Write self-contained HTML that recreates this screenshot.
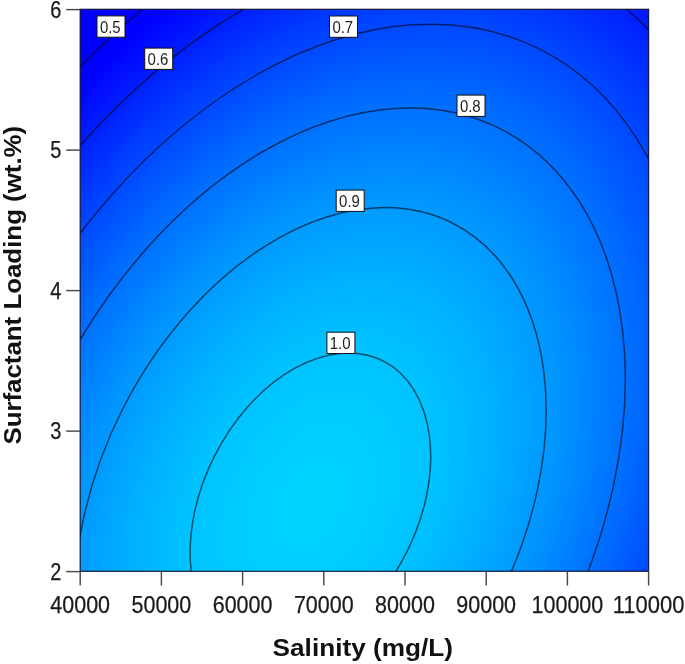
<!DOCTYPE html>
<html><head><meta charset="utf-8"><title>Contour plot</title>
<style>
html,body{margin:0;padding:0;background:#fff;}
body{width:685px;height:664px;overflow:hidden;}
svg{display:block;font-family:"Liberation Sans",sans-serif;}
</style></head><body>
<svg width="685" height="664" viewBox="0 0 685 664">
<defs>
<radialGradient id="g" gradientUnits="userSpaceOnUse" cx="0" cy="0" r="1" gradientTransform="translate(310.42 504.40) rotate(-63.149) scale(739.85 494.47)">
<stop offset="0.0000" stop-color="#00d2ff"/>
<stop offset="0.0250" stop-color="#00d1ff"/>
<stop offset="0.0500" stop-color="#00d1ff"/>
<stop offset="0.0750" stop-color="#00d0ff"/>
<stop offset="0.1000" stop-color="#00ceff"/>
<stop offset="0.1250" stop-color="#00cdff"/>
<stop offset="0.1500" stop-color="#00cbff"/>
<stop offset="0.1750" stop-color="#00c8ff"/>
<stop offset="0.2000" stop-color="#00c5ff"/>
<stop offset="0.2250" stop-color="#00c2ff"/>
<stop offset="0.2500" stop-color="#00beff"/>
<stop offset="0.2750" stop-color="#00baff"/>
<stop offset="0.3000" stop-color="#00b5ff"/>
<stop offset="0.3250" stop-color="#00b1ff"/>
<stop offset="0.3500" stop-color="#00abff"/>
<stop offset="0.3750" stop-color="#00a6ff"/>
<stop offset="0.4000" stop-color="#00a0ff"/>
<stop offset="0.4250" stop-color="#009aff"/>
<stop offset="0.4500" stop-color="#0094ff"/>
<stop offset="0.4750" stop-color="#008dff"/>
<stop offset="0.5000" stop-color="#0086ff"/>
<stop offset="0.5250" stop-color="#007eff"/>
<stop offset="0.5500" stop-color="#0077ff"/>
<stop offset="0.5750" stop-color="#006fff"/>
<stop offset="0.6000" stop-color="#0067ff"/>
<stop offset="0.6250" stop-color="#005eff"/>
<stop offset="0.6500" stop-color="#0056ff"/>
<stop offset="0.6750" stop-color="#004dff"/>
<stop offset="0.7000" stop-color="#0044ff"/>
<stop offset="0.7250" stop-color="#003bff"/>
<stop offset="0.7500" stop-color="#0031ff"/>
<stop offset="0.7750" stop-color="#0028ff"/>
<stop offset="0.8000" stop-color="#001eff"/>
<stop offset="0.8250" stop-color="#0014ff"/>
<stop offset="0.8500" stop-color="#000bff"/>
<stop offset="0.8750" stop-color="#0001ff"/>
<stop offset="0.9000" stop-color="#0000ff"/>
<stop offset="0.9250" stop-color="#0000ff"/>
<stop offset="0.9500" stop-color="#0000ff"/>
<stop offset="0.9750" stop-color="#0000ff"/>
<stop offset="1.0000" stop-color="#0000ff"/>
</radialGradient>
<clipPath id="c"><rect x="80.2" y="9.3" width="568.40" height="562.00"/></clipPath>
</defs>
<rect x="0" y="0" width="685" height="664" fill="#fff"/>
<rect x="80.2" y="9.3" width="568.40" height="562.00" fill="url(#g)"/>
<g clip-path="url(#c)" fill="none" stroke="#000610" stroke-width="1.5" stroke-opacity="0.62">
<ellipse cx="310.42" cy="504.40" rx="667.82" ry="446.33" transform="rotate(-63.149 310.42 504.40)"/>
<ellipse cx="310.42" cy="504.40" rx="590.95" ry="394.96" transform="rotate(-63.149 310.42 504.40)"/>
<ellipse cx="310.42" cy="504.40" rx="509.82" ry="340.73" transform="rotate(-63.149 310.42 504.40)"/>
<ellipse cx="310.42" cy="504.40" rx="420.96" ry="281.34" transform="rotate(-63.149 310.42 504.40)"/>
<ellipse cx="310.42" cy="504.40" rx="315.14" ry="210.62" transform="rotate(-63.149 310.42 504.40)"/>
<ellipse cx="310.42" cy="504.40" rx="160.79" ry="107.46" transform="rotate(-63.149 310.42 504.40)"/>
</g>
<rect x="80.2" y="9.3" width="568.40" height="562.00" fill="none" stroke="#0a0c2c" stroke-width="1.25" stroke-opacity="0.88"/>
<g stroke="#484848" stroke-width="1.45" transform="translate(0 0.3)">
<line x1="80.20" y1="571.30" x2="80.20" y2="585.30"/>
<line x1="161.40" y1="571.30" x2="161.40" y2="585.30"/>
<line x1="242.60" y1="571.30" x2="242.60" y2="585.30"/>
<line x1="323.80" y1="571.30" x2="323.80" y2="585.30"/>
<line x1="405.00" y1="571.30" x2="405.00" y2="585.30"/>
<line x1="486.20" y1="571.30" x2="486.20" y2="585.30"/>
<line x1="567.40" y1="571.30" x2="567.40" y2="585.30"/>
<line x1="648.60" y1="571.30" x2="648.60" y2="585.30"/>
<line x1="66.20" y1="571.30" x2="80.20" y2="571.30"/>
<line x1="66.20" y1="430.80" x2="80.20" y2="430.80"/>
<line x1="66.20" y1="290.30" x2="80.20" y2="290.30"/>
<line x1="66.20" y1="149.80" x2="80.20" y2="149.80"/>
<line x1="66.20" y1="9.30" x2="80.20" y2="9.30"/>
</g>
<g fill="#222">
<rect x="97.0" y="15.9" width="28.0" height="21.3" fill="#fff" stroke="#111" stroke-width="1"/>
<text x="99.9" y="32.5" textLength="20.8" lengthAdjust="spacingAndGlyphs" font-size="17">0.5</text>
<rect x="144.7" y="48.1" width="28.0" height="21.3" fill="#fff" stroke="#111" stroke-width="1"/>
<text x="147.6" y="64.7" textLength="20.8" lengthAdjust="spacingAndGlyphs" font-size="17">0.6</text>
<rect x="329.5" y="16.0" width="28.0" height="21.3" fill="#fff" stroke="#111" stroke-width="1"/>
<text x="332.4" y="32.6" textLength="20.8" lengthAdjust="spacingAndGlyphs" font-size="17">0.7</text>
<rect x="457.0" y="95.1" width="28.0" height="21.3" fill="#fff" stroke="#111" stroke-width="1"/>
<text x="459.9" y="111.7" textLength="20.8" lengthAdjust="spacingAndGlyphs" font-size="17">0.8</text>
<rect x="336.2" y="190.1" width="28.0" height="21.3" fill="#fff" stroke="#111" stroke-width="1"/>
<text x="339.1" y="206.7" textLength="20.8" lengthAdjust="spacingAndGlyphs" font-size="17">0.9</text>
<rect x="326.9" y="332.2" width="28.0" height="21.3" fill="#fff" stroke="#111" stroke-width="1"/>
<text x="329.8" y="348.8" textLength="20.8" lengthAdjust="spacingAndGlyphs" font-size="17">1.0</text>
</g>
<g font-size="23.8" fill="#1a1a1a" stroke="#1a1a1a" stroke-width="0.25">
<text x="50.33" y="613.3" textLength="59.75" lengthAdjust="spacingAndGlyphs">40000</text>
<text x="131.53" y="613.3" textLength="59.75" lengthAdjust="spacingAndGlyphs">50000</text>
<text x="212.73" y="613.3" textLength="59.75" lengthAdjust="spacingAndGlyphs">60000</text>
<text x="293.92" y="613.3" textLength="59.75" lengthAdjust="spacingAndGlyphs">70000</text>
<text x="375.12" y="613.3" textLength="59.75" lengthAdjust="spacingAndGlyphs">80000</text>
<text x="456.32" y="613.3" textLength="59.75" lengthAdjust="spacingAndGlyphs">90000</text>
<text x="531.55" y="613.3" textLength="71.70" lengthAdjust="spacingAndGlyphs">100000</text>
<text x="612.75" y="613.3" textLength="71.70" lengthAdjust="spacingAndGlyphs">110000</text>
<text x="50.20" y="579.70" textLength="11.1" lengthAdjust="spacingAndGlyphs" font-size="23.5">2</text>
<text x="50.20" y="439.20" textLength="11.1" lengthAdjust="spacingAndGlyphs" font-size="23.5">3</text>
<text x="50.20" y="298.70" textLength="11.1" lengthAdjust="spacingAndGlyphs" font-size="23.5">4</text>
<text x="50.20" y="158.20" textLength="11.1" lengthAdjust="spacingAndGlyphs" font-size="23.5">5</text>
<text x="50.20" y="17.70" textLength="11.1" lengthAdjust="spacingAndGlyphs" font-size="23.5">6</text>
</g>
<text x="272.6" y="655.6" textLength="180.4" lengthAdjust="spacingAndGlyphs" font-size="23.6" font-weight="bold" fill="#111">Salinity (mg/L)</text>
<text transform="translate(21.1 444.6) rotate(-90)" textLength="318.8" lengthAdjust="spacingAndGlyphs" font-size="23.6" font-weight="bold" fill="#111">Surfactant Loading (wt.%)</text>
</svg>
</body></html>
